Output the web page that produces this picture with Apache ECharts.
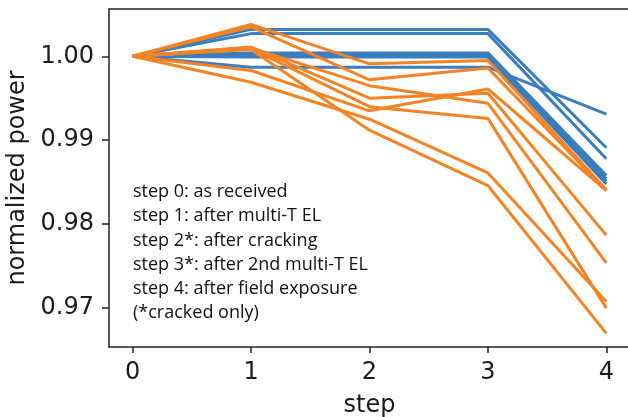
<!DOCTYPE html>
<html>
<head>
<meta charset="utf-8">
<script src="https://cdn.jsdelivr.net/npm/echarts@6/dist/echarts.min.js"></script>
<style>
  html, body { margin: 0; padding: 0; background: #fff; }
  #chart { width: 628px; height: 417px; }
</style>
</head>
<body>
<div id="chart"></div>
<script>
const steps = [0, 1, 2, 3, 4]
const yTicks = [0.97, 0.98, 0.99, 1.00]

// uncracked modules (steps 2, 3 repeat step 1)
const blueModules = [
  [1, 1.0032, 1.0032, 1.0032, 0.9891],
  [1, 1.0027, 1.0027, 1.0027, 0.9878],
  [1, 1.0004, 1.0004, 1.0004, 0.9858],
  [1, 1.0002, 1.0002, 1.0002, 0.9854],
  [1, 1.0000, 1.0000, 1.0000, 0.9851],
  [1, 0.9999, 0.9999, 0.9999, 0.9848],
  [1, 0.9987, 0.9987, 0.9987, 0.9931]
]

// cracked modules
const orangeModules = [
  [1, 1.0038, 0.9991, 0.9995, 0.9841],
  [1, 1.0035, 0.9972, 0.9986, 0.9840],
  [1, 1.0011, 0.9950, 0.9956, 0.9787],
  [1, 1.0010, 0.9965, 0.9944, 0.9754],
  [1, 1.0009, 0.9940, 0.9926, 0.9700],
  [1, 0.9983, 0.9935, 0.9961, 0.9840],
  [1, 0.9969, 0.9925, 0.9861, 0.9708],
  [1, 1.0008, 0.9912, 0.9846, 0.9670]
]

const noteLines = [
  'step 0: as received',
  'step 1: after multi-T EL',
  'step 2*: after cracking',
  'step 3*: after 2nd multi-T EL',
  'step 4: after field exposure',
  '(*cracked only)'
]

const BLUE = '#3a7ebd'
const ORANGE = '#f28426'

function mkSeries(rows, color) {
  return rows.map(r => ({
    type: 'line',
    data: r.map((v, i) => [steps[i], v]),
    symbol: 'none',
    silent: true,
    animation: false,
    lineStyle: { color: color, width: 3 }
  }))
}

const chart = echarts.init(document.getElementById('chart'), null, { renderer: 'canvas' })

const tickFont = { fontFamily: 'DejaVu Sans', fontSize: 24, color: '#1a1a1a' }
const spine = { show: true, onZero: false, lineStyle: { color: '#222', width: 1.5 } }

chart.setOption({
  animation: false,
  grid: { left: 109, top: 9, width: 521, height: 338, containLabel: false, outerBoundsMode: 'none' },
  xAxis: [{
    type: 'value',
    min: -0.2,
    max: 4.2,
    name: 'step',
    nameLocation: 'middle',
    nameGap: 47,
    nameTextStyle: { fontFamily: 'DejaVu Sans', fontSize: 24, color: '#1a1a1a' },
    splitLine: { show: false },
    axisLine: spine,
    axisTick: { show: true, length: 6, customValues: steps, lineStyle: { color: '#222', width: 1.5 } },
    axisLabel: Object.assign({ customValues: steps, margin: 14 }, tickFont)
  }, {
    type: 'value', position: 'top', min: -0.2, max: 4.2,
    axisLine: spine,
    axisTick: { show: false }, axisLabel: { show: false }, splitLine: { show: false }
  }],
  yAxis: [{
    type: 'value',
    position: 'left',
    min: 0.96537,
    max: 1.00563,
    name: 'normalized power',
    nameLocation: 'middle',
    nameGap: 76,
    nameTextStyle: { fontFamily: 'DejaVu Sans', fontSize: 24, color: '#1a1a1a' },
    splitLine: { show: false },
    axisLine: spine,
    axisTick: { show: true, length: 7, customValues: yTicks, lineStyle: { color: '#222', width: 1.5 } },
    axisLabel: Object.assign({
      customValues: yTicks,
      margin: 15,
      formatter: v => v.toFixed(2)
    }, tickFont)
  }],
  graphic: [{
    type: 'text',
    left: 133,
    top: 180,
    style: {
      text: noteLines.join('\n'),
      font: '18px "Open Sans"',
      lineHeight: 24.2,
      fill: '#111'
    }
  }],
  series: mkSeries(blueModules, BLUE).concat(mkSeries(orangeModules, ORANGE))
})
</script>
</body>
</html>
